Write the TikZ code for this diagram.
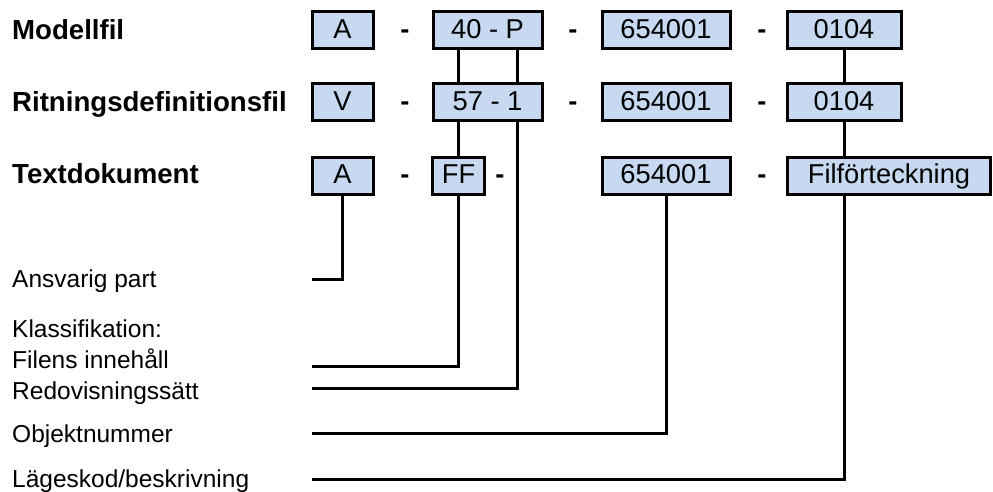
\documentclass[tikz,border=0pt]{standalone}
\usepackage{fontspec}
\setmainfont{Liberation Sans}
\definecolor{boxfill}{RGB}{198,217,240}
\tikzset{
  x=1pt, y=-1pt,
  codebox/.style={draw=black, line width=3pt, fill=boxfill, inner sep=0pt,
    minimum height=37pt, text height=20pt, text depth=4.4pt,
    font=\fontsize{27.3}{30}\selectfont},
  sep/.style={anchor=base, inner sep=0pt, font=\fontsize{27.3}{30}\selectfont\bfseries},
  title/.style={anchor=base west, inner sep=0pt, font=\fontsize{27.6}{30}\selectfont\bfseries},
  lab/.style={anchor=base west, inner sep=0pt, font=\fontsize{24.5}{28}\selectfont},
  conn/.style={draw=black, line width=3pt}
}
\begin{document}
\begin{tikzpicture}
\useasboundingbox (0,0) rectangle (993,492);
% titles
\node[title] (t1) at (12,39.3) {Modellfil};
\node[title] (t2) at (12,111.7) {Ritningsdefinitionsfil};
\node[title] (t3) at (12,183.5) {Textdokument};
% row 1
\node[codebox, minimum width=61pt] (a1) at (342.5,30.5) {A};
\node[codebox, minimum width=109pt] (b1) at (487.5,30.5) {40 - P};
\node[codebox, minimum width=128pt] (c1) at (666,30.5) {654001};
\node[codebox, minimum width=114pt] (d1) at (844,30.5) {0104};
% row 2
\node[codebox, minimum width=61pt] (a2) at (342.5,102.5) {V};
\node[codebox, minimum width=109pt] (b2) at (487.5,102.5) {57 - 1};
\node[codebox, minimum width=128pt] (c2) at (666,102.5) {654001};
\node[codebox, minimum width=114pt] (d2) at (844,102.5) {0104};
% row 3
\node[codebox, minimum width=61pt] (a3) at (342.5,175.5) {A};
\node[codebox, minimum width=52pt] (b3) at (458.5,175.5) {FF};
\node[codebox, minimum width=128pt] (c3) at (666,175.5) {654001};
\node[codebox, minimum width=203.5pt] (d3) at (889,175.5) {Filförteckning};
% dashes
\node[sep] (s11) at (405,38.3) {-};
\node[sep] (s12) at (573,38.3) {-};
\node[sep] (s13) at (762,38.3) {-};
\node[sep] (s21) at (405,110.5) {-};
\node[sep] (s22) at (573,110.5) {-};
\node[sep] (s23) at (762,110.5) {-};
\node[sep] (s31) at (405,183.5) {-};
\node[sep] (s32) at (500,183.5) {-};
\node[sep] (s33) at (762,183.5) {-};
% labels
\node[lab] (l1) at (12,287) {Ansvarig part};
\node[lab] (l2) at (12,337) {Klassifikation:};
\node[lab] (l3) at (12,368) {Filens innehåll};
\node[lab] (l4) at (12,399) {Redovisningssätt};
\node[lab] (l5) at (12,442) {Objektnummer};
\node[lab] (l6) at (12,487) {Lägeskod/beskrivning};
% free ends
\coordinate (e1) at (312,279);
\coordinate (e3) at (312,366);
\coordinate (e4) at (312,388);
\coordinate (e5) at (312,433);
\coordinate (e6) at (312,479);
% connectors between rows
\draw[conn] (b1.south -| b3.north) -- (b2.north -| b3.north);
\draw[conn] ([xshift=29.5pt]b1.south) -- ([xshift=29.5pt]b2.north);
\draw[conn] (d1.south) -- (d2.north);
\draw[conn] (b2.south -| b3.north) -- (b3.north);
\draw[conn] (d2.south) -- (d3.north -| d2.south);
% connectors to labels
\draw[conn] (a3.south) |- (e1);
\draw[conn] (b3.south) |- (e3);
\draw[conn] ([xshift=29.5pt]b2.south) |- (e4);
\draw[conn] (c3.south) |- (e5);
\draw[conn] (d3.south -| d2.south) |- (e6);
\end{tikzpicture}
\end{document}
